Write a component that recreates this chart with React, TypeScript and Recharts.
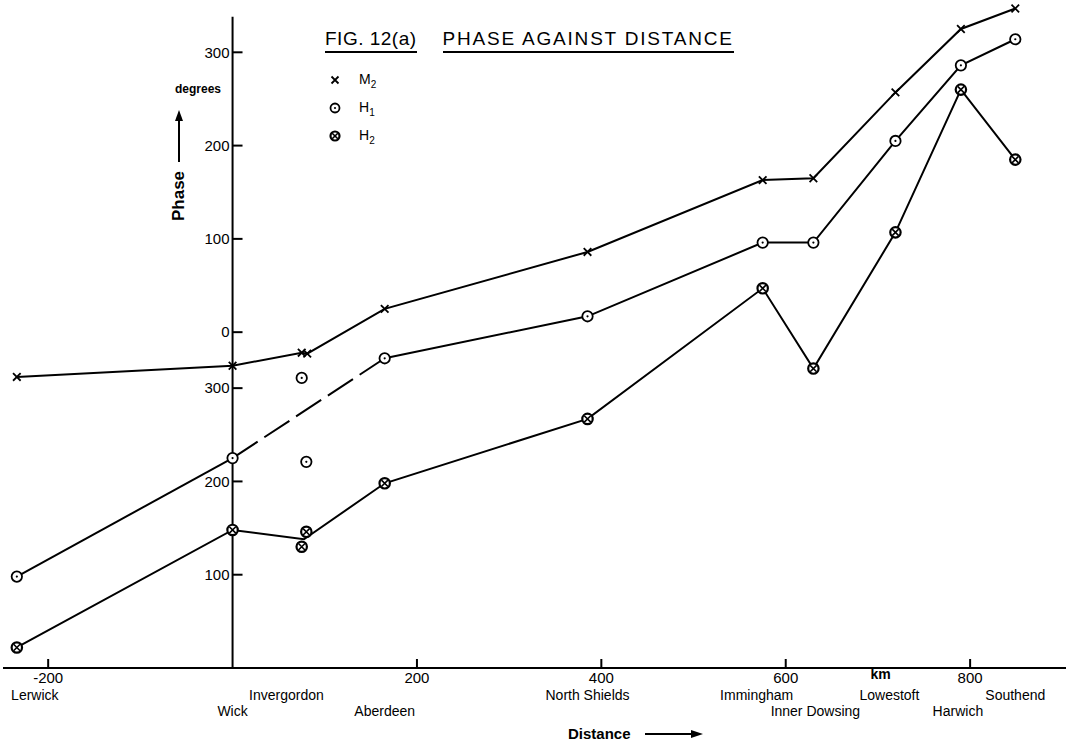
import React from 'react';
import { ComposedChart, Line, XAxis, YAxis, ReferenceLine, ReferenceDot, Legend } from 'recharts';

// Stations along the coast, distance in km measured from Wick
const stations = ['Lerwick', 'Wick', 'Invergordon', 'Aberdeen', 'North Shields', 'Immingham', 'Inner Dowsing', 'Lowestoft', 'Harwich', 'Southend'];
const stationKm = [-234, 0, 78, 165, 385, 575, 630, 719, 790, 849];

// Phase in degrees. Negative values are on the lower branch of the axis (phase - 360)
const m2Km = [-234, 0, 75, 81, 165, 385, 575, 630, 719, 790, 849];
const m2Phase = [-48, -36, -22, -23, 25, 86, 163, 165, 257, 325, 347];

const h1Km = [-234, 0, 165, 385, 575, 630, 719, 790, 849];
const h1Phase = [-262, -135, -28, 17, 96, 96, 205, 286, 314];
const h1InvKm = [75, 80];
const h1InvPhase = [-49, -139];

const h2Km = [-234, 0, 165, 385, 575, 630, 719, 790, 849];
const h2Phase = [-338, -212, -162, -93, 47, -39, 107, 260, 185];
const h2InvKm = [75, 80];
const h2InvPhase = [-230, -214];

const xTicks = [-200, 200, 400, 600, 800];
const yTicks = [-260, -160, -60, 0, 100, 200, 300];
const unitLabelKm = 703;

// ---- layout / style constants ----
const W = 1066;
const H = 745;
const X_DOMAIN: [number, number] = [-249, 904];
const Y_DOMAIN: [number, number] = [-360, 355];
const Y_AXIS_TOP = 338;
const Y_TICK_KM = 10.8;
const FONT = '"Liberation Sans", Arial, sans-serif';
const stationRow = [0, 1, 0, 1, 0, 0, 1, 0, 1, 0];
const stationDx = [18, 0, -18, 0, 0, -6, 2, -6, -3, 0];

const zip = (ks: number[], vs: number[]) => ks.map((km, i) => ({ km, v: vs[i] }));
const avg = (a: number[]) => a.reduce((s, x) => s + x, 0) / a.length;

const m2Data = zip(m2Km, m2Phase);
const h1Data = zip(h1Km, h1Phase);
const h1SolidA = h1Data.slice(0, 2);
const h1Dashed = h1Data.slice(1, 3);
const h1SolidB = h1Data.slice(2);
const h1Inv = zip(h1InvKm, h1InvPhase);
const h2Data = zip(h2Km, h2Phase);
const h2Line = [h2Data[0], h2Data[1], { km: avg(h2InvKm), v: avg(h2InvPhase), mid: true }, ...h2Data.slice(2)];
const h2Inv = zip(h2InvKm, h2InvPhase);

const fmtPhase = (v: number) => String(v < 0 ? v + 360 : v);

const CrossMark = ({ cx, cy, s = 3.8 }: any) => (
  <path d={`M${cx - s},${cy - s}L${cx + s},${cy + s}M${cx + s},${cy - s}L${cx - s},${cy + s}`} stroke="#000" strokeWidth={1.8} fill="none" />
);
const DotCircleMark = ({ cx, cy, r = 5.2 }: any) => (
  <g>
    <circle cx={cx} cy={cy} r={r} fill="#fff" stroke="#000" strokeWidth={1.8} />
    <circle cx={cx} cy={cy} r={1.1} fill="#000" />
  </g>
);
const XCircleMark = ({ cx, cy, r = 5.2 }: any) => {
  const s = r * 0.62;
  return (
    <g>
      <circle cx={cx} cy={cy} r={r} fill="#fff" stroke="#000" strokeWidth={2.2} />
      <path d={`M${cx - s},${cy - s}L${cx + s},${cy + s}M${cx + s},${cy - s}L${cx - s},${cy + s}`} stroke="#000" strokeWidth={1.6} />
    </g>
  );
};

const dotFn = (Mark: any) => (p: any) => {
  if (p.cx == null || p.cy == null || (p.payload && p.payload.mid)) return <g key={`d${p.index}`} />;
  return <g key={`d${p.index}`}><Mark cx={p.cx} cy={p.cy} /></g>;
};

const NumTick = (p: any) => {
  const { x, y, payload } = p;
  return (
    <g>
      <line x1={x} y1={y} x2={x} y2={y - 9} stroke="#000" strokeWidth={2} />
      <text x={x} y={y + 15} textAnchor="middle" fontSize={15} fontFamily={FONT} fill="#000">{payload.value}</text>
    </g>
  );
};

const StationTick = (p: any) => {
  const { x, y, payload } = p;
  const i = stationKm.indexOf(payload.value);
  if (i < 0) return <g />;
  return (
    <text x={x + stationDx[i]} y={y + (stationRow[i] ? 38 : 22)} textAnchor="middle" fontSize={14} fontFamily={FONT} fill="#000">
      {stations[i]}
    </text>
  );
};

const legendItems = [
  { Mark: CrossMark, name: 'M', sub: '2' },
  { Mark: DotCircleMark, name: 'H', sub: '1' },
  { Mark: XCircleMark, name: 'H', sub: '2' },
];

const LegendBox = () => (
  <div style={{ fontFamily: FONT, fontSize: 14, color: '#000' }}>
    {legendItems.map((it, i) => (
      <div key={i} style={{ display: 'flex', alignItems: 'center', height: 28 }}>
        <svg width={16} height={16} style={{ marginRight: 16 }}>
          <it.Mark cx={8} cy={8} s={3.5} r={4.5} />
        </svg>
        <span>
          {it.name}
          <sub style={{ fontSize: 10 }}>{it.sub}</sub>
        </span>
      </div>
    ))}
  </div>
);

export default function App() {
  return (
    <div style={{ position: 'absolute', left: 0, top: 0, width: W, height: H, background: '#fff', fontFamily: FONT }}>
      <ComposedChart width={W} height={H} margin={{ top: 1, right: 0, left: 3, bottom: 23 }}>
        <XAxis
          type="number"
          dataKey="km"
          domain={X_DOMAIN}
          allowDataOverflow
          ticks={xTicks}
          interval={0}
          tickLine={false}
          tickSize={0}
          tickMargin={0}
          tick={<NumTick />}
          axisLine={{ stroke: '#000', strokeWidth: 2 }}
          height={10}
        />
        <XAxis
          xAxisId="st"
          type="number"
          dataKey="km"
          domain={X_DOMAIN}
          allowDataOverflow
          ticks={stationKm}
          interval={0}
          tickLine={false}
          tickSize={0}
          tickMargin={0}
          axisLine={false}
          tick={<StationTick />}
          height={44}
        />
        <YAxis hide type="number" domain={Y_DOMAIN} allowDataOverflow />

        <ReferenceLine segment={[{ x: 0, y: Y_DOMAIN[0] }, { x: 0, y: Y_AXIS_TOP }]} stroke="#000" strokeWidth={2} />
        {yTicks.map((t) => (
          <ReferenceLine
            key={t}
            segment={[{ x: 0, y: t }, { x: Y_TICK_KM, y: t }]}
            stroke="#000"
            strokeWidth={2}
            label={{ value: fmtPhase(t), position: 'left', offset: 3, fill: '#000', fontSize: 15, fontFamily: FONT }}
          />
        ))}
        <ReferenceDot
          x={unitLabelKm}
          y={Y_DOMAIN[0]}
          r={0}
          fill="none"
          stroke="none"
          label={{ value: 'km', position: 'bottom', offset: 1, fill: '#000', fontSize: 14, fontWeight: 'bold', fontFamily: FONT }}
        />

        <Line data={m2Data} dataKey="v" type="linear" stroke="#000" strokeWidth={2} dot={dotFn(CrossMark)} activeDot={false} isAnimationActive={false} legendType="none" />
        <Line data={h1SolidA} dataKey="v" type="linear" stroke="#000" strokeWidth={2} dot={false} activeDot={false} isAnimationActive={false} legendType="none" />
        <Line data={h1Dashed} dataKey="v" type="linear" stroke="#000" strokeWidth={2} strokeDasharray="30 8" dot={false} activeDot={false} isAnimationActive={false} legendType="none" />
        <Line data={h1SolidB} dataKey="v" type="linear" stroke="#000" strokeWidth={2} dot={false} activeDot={false} isAnimationActive={false} legendType="none" />
        <Line data={h1Data} dataKey="v" type="linear" stroke="none" dot={dotFn(DotCircleMark)} activeDot={false} isAnimationActive={false} legendType="none" />
        <Line data={h1Inv} dataKey="v" type="linear" stroke="none" dot={dotFn(DotCircleMark)} activeDot={false} isAnimationActive={false} legendType="none" />
        <Line data={h2Line} dataKey="v" type="linear" stroke="#000" strokeWidth={2} dot={dotFn(XCircleMark)} activeDot={false} isAnimationActive={false} legendType="none" />
        <Line data={h2Inv} dataKey="v" type="linear" stroke="none" dot={dotFn(XCircleMark)} activeDot={false} isAnimationActive={false} legendType="none" />

        <Legend
          layout="vertical"
          align="center"
          verticalAlign="middle"
          content={() => <LegendBox />}
          wrapperStyle={{ position: 'absolute', left: 327, top: 66, width: 90, height: 90 }}
        />
      </ComposedChart>

      {/* title */}
      <div style={{ position: 'absolute', left: 325, top: 29, fontSize: 19, color: '#000', whiteSpace: 'nowrap', display: 'flex' }}>
        <span style={{ borderBottom: '2px solid #000', lineHeight: '20px', paddingBottom: 2, letterSpacing: 0.5 }}>FIG. 12(a)</span>
        <span style={{ marginLeft: 26, borderBottom: '2px solid #000', lineHeight: '20px', paddingBottom: 2, letterSpacing: 1.8 }}>PHASE AGAINST DISTANCE</span>
      </div>

      {/* y axis label */}
      <div style={{ position: 'absolute', left: 175, top: 82, fontSize: 12, fontWeight: 'bold', color: '#000' }}>degrees</div>
      <svg style={{ position: 'absolute', left: 170, top: 108 }} width={18} height={56}>
        <line x1={9} y1={10} x2={9} y2={54} stroke="#000" strokeWidth={2} />
        <polygon points="9,2 5,13 13,13" fill="#000" />
      </svg>
      <div
        style={{
          position: 'absolute',
          left: 179,
          top: 196,
          transform: 'translate(-50%, -50%) rotate(-90deg)',
          fontSize: 17,
          fontWeight: 'bold',
          color: '#000',
          whiteSpace: 'nowrap',
        }}
      >
        Phase
      </div>

      {/* x axis label */}
      <div style={{ position: 'absolute', left: 568, top: 725, display: 'flex', alignItems: 'center', color: '#000' }}>
        <span style={{ fontSize: 15, fontWeight: 'bold' }}>Distance</span>
        <svg width={60} height={12} style={{ marginLeft: 14 }}>
          <line x1={0} y1={6} x2={48} y2={6} stroke="#000" strokeWidth={2} />
          <polygon points="58,6 46,2 46,10" fill="#000" />
        </svg>
      </div>
    </div>
  );
}
